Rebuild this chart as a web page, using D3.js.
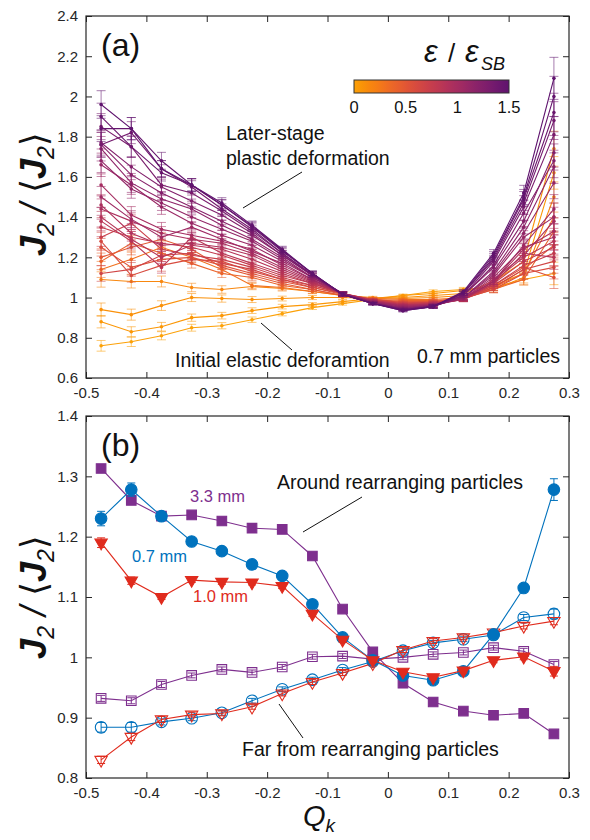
<!DOCTYPE html>
<html>
<head>
<meta charset="utf-8">
<script src="https://cdn.jsdelivr.net/npm/d3@7"></script>
<style>
  body { margin: 0; background: #fff; }
  svg { display: block; }
  text { font-family: "Liberation Sans", Arial, sans-serif; }
</style>
</head>
<body>
<svg id="chart" width="590" height="840"></svg>
<script>
// ---- shared axis data ----
const qBins = [-0.475, -0.425, -0.375, -0.325, -0.275, -0.225, -0.175, -0.125,
               -0.075, -0.025, 0.025, 0.075, 0.125, 0.175, 0.225, 0.275];
const xTicks = [-0.5, -0.4, -0.3, -0.2, -0.1, 0, 0.1, 0.2, 0.3];
const yTicksA = [0.6, 0.8, 1, 1.2, 1.4, 1.6, 1.8, 2, 2.2, 2.4];
const yTicksB = [0.8, 0.9, 1, 1.1, 1.2, 1.3, 1.4];
const cbarTicks = [0, 0.5, 1, 1.5];

// ---- panel (a): 0.7 mm particles, one curve per strain level ----
const strainLevels = [0.00, 0.05, 0.10, 0.15, 0.30, 0.40, 0.48, 0.55, 0.60, 0.66,
                      0.72, 0.78, 0.84, 0.88, 0.92, 0.96, 1.00, 1.04, 1.08, 1.12,
                      1.16, 1.20, 1.25, 1.30, 1.35, 1.40, 1.45, 1.50];
const curvesA = [
  [0.76, 0.78, 0.81, 0.85, 0.86, 0.89, 0.92, 0.95, 0.97, 0.99, 1.01, 1.03, 1.04, 1.05, 1.09, 1.12],
  [0.88, 0.83, 0.855, 0.90, 0.91, 0.935, 0.955, 0.965, 0.98, 0.995, 1.01, 1.02, 1.035, 1.06, 1.12, 1.62],
  [0.94, 0.915, 0.96, 1.00, 0.995, 0.99, 0.995, 1.00, 1.00, 0.995, 1.00, 1.01, 1.02, 1.08, 1.18, 1.74],
  [1.09, 1.08, 1.08, 1.05, 1.04, 1.055, 1.045, 1.03, 1.01, 1.00, 0.995, 1.00, 1.01, 1.04, 1.10, 1.50],
  [1.14, 1.19, 1.25, 1.20, 1.14, 1.06, 1.05, 1.03, 1.01, 0.995, 0.99, 0.99, 1.00, 1.05, 1.12, 1.40],
  [1.18, 1.27, 1.22, 1.17, 1.12, 1.10, 1.06, 1.04, 1.01, 0.99, 0.985, 0.985, 0.995, 1.04, 1.09, 1.33],
  [1.20, 1.25, 1.29, 1.24, 1.15, 1.11, 1.07, 1.04, 1.01, 0.99, 0.98, 0.98, 0.995, 1.05, 1.14, 1.26],
  [1.25, 1.15, 1.19, 1.20, 1.16, 1.12, 1.08, 1.05, 1.015, 0.99, 0.975, 0.98, 0.995, 1.06, 1.15, 1.10],
  [1.28, 1.11, 1.16, 1.19, 1.18, 1.13, 1.09, 1.05, 1.02, 0.99, 0.975, 0.975, 0.995, 1.04, 1.12, 1.15],
  [1.12, 1.14, 1.21, 1.22, 1.17, 1.14, 1.09, 1.06, 1.02, 0.99, 0.97, 0.975, 0.99, 1.05, 1.14, 1.18],
  [1.30, 1.37, 1.24, 1.21, 1.19, 1.15, 1.10, 1.06, 1.02, 0.985, 0.97, 0.975, 0.99, 1.06, 1.16, 1.22],
  [1.35, 1.30, 1.27, 1.25, 1.21, 1.16, 1.11, 1.07, 1.02, 0.985, 0.965, 0.97, 0.99, 1.07, 1.18, 1.25],
  [1.38, 1.28, 1.15, 1.30, 1.22, 1.17, 1.12, 1.07, 1.02, 0.985, 0.965, 0.97, 0.99, 1.08, 1.20, 1.28],
  [1.40, 1.29, 1.20, 1.26, 1.24, 1.19, 1.13, 1.075, 1.02, 0.985, 0.96, 0.97, 0.99, 1.07, 1.22, 1.20],
  [1.46, 1.32, 1.26, 1.27, 1.25, 1.21, 1.14, 1.08, 1.02, 0.98, 0.96, 0.965, 0.99, 1.08, 1.24, 1.33],
  [1.44, 1.38, 1.32, 1.29, 1.27, 1.22, 1.15, 1.085, 1.02, 0.98, 0.96, 0.965, 0.995, 1.09, 1.21, 1.38],
  [1.56, 1.41, 1.34, 1.31, 1.28, 1.24, 1.16, 1.09, 1.02, 0.98, 0.955, 0.965, 0.995, 1.10, 1.25, 1.30],
  [1.50, 1.39, 1.30, 1.35, 1.29, 1.23, 1.17, 1.09, 1.02, 0.98, 0.955, 0.96, 0.995, 1.08, 1.26, 1.44],
  [1.66, 1.56, 1.45, 1.37, 1.31, 1.26, 1.18, 1.10, 1.02, 0.975, 0.95, 0.96, 1.00, 1.11, 1.30, 1.40],
  [1.68, 1.54, 1.47, 1.40, 1.34, 1.28, 1.19, 1.10, 1.02, 0.975, 0.95, 0.96, 1.00, 1.12, 1.32, 1.57],
  [1.74, 1.57, 1.49, 1.44, 1.36, 1.29, 1.20, 1.10, 1.02, 0.975, 0.945, 0.96, 1.00, 1.13, 1.35, 1.65],
  [1.76, 1.61, 1.52, 1.45, 1.38, 1.31, 1.21, 1.11, 1.02, 0.975, 0.945, 0.96, 1.01, 1.15, 1.38, 1.72],
  [1.77, 1.65, 1.55, 1.48, 1.41, 1.32, 1.21, 1.11, 1.02, 0.97, 0.945, 0.955, 1.01, 1.16, 1.42, 1.68],
  [1.85, 1.75, 1.56, 1.52, 1.43, 1.33, 1.22, 1.11, 1.015, 0.97, 0.94, 0.955, 1.01, 1.18, 1.45, 1.81],
  [1.76, 1.82, 1.64, 1.55, 1.44, 1.34, 1.22, 1.115, 1.015, 0.97, 0.94, 0.955, 1.02, 1.19, 1.47, 1.88],
  [1.90, 1.75, 1.62, 1.56, 1.46, 1.35, 1.23, 1.12, 1.015, 0.97, 0.94, 0.955, 1.02, 1.20, 1.49, 1.92],
  [1.84, 1.84, 1.68, 1.56, 1.46, 1.355, 1.235, 1.12, 1.015, 0.97, 0.935, 0.955, 1.025, 1.21, 1.50, 2.00],
  [1.96, 1.84, 1.64, 1.56, 1.47, 1.36, 1.24, 1.12, 1.015, 0.97, 0.935, 0.955, 1.03, 1.22, 1.52, 2.09]
];
// relative standard error per Q_k bin
const relErrA = [0.035, 0.03, 0.025, 0.02, 0.018, 0.015, 0.012, 0.01,
                 0.008, 0.006, 0.006, 0.008, 0.01, 0.015, 0.025, 0.05];

// ---- panel (b): three particle sizes, near / far from rearrangements ----
const nearSmall  = [1.230, 1.278, 1.234, 1.192, 1.176, 1.154, 1.135, 1.088, 1.033, 0.995, 0.970, 0.962, 0.977, 1.038, 1.115, 1.278];
const nearSmallErr = [0.012, 0.011, 0.005, 0.004, 0.004, 0.004, 0.004, 0.004, 0.004, 0.004, 0.004, 0.004, 0.004, 0.005, 0.006, 0.018];
const nearMid    = [1.190, 1.127, 1.100, 1.128, 1.125, 1.124, 1.118, 1.072, 1.029, 0.995, 0.976, 0.967, 0.978, 0.995, 1.001, 0.977];
const nearMidErr = [0.008, 0.006, 0.004, 0.004, 0.004, 0.004, 0.004, 0.004, 0.004, 0.004, 0.004, 0.004, 0.004, 0.004, 0.005, 0.008];
const nearLarge  = [1.313, 1.260, 1.234, 1.236, 1.226, 1.214, 1.212, 1.168, 1.080, 1.009, 0.957, 0.926, 0.911, 0.904, 0.907, 0.873];
const nearLargeErr = [0.004, 0.004, 0.004, 0.004, 0.004, 0.004, 0.004, 0.004, 0.004, 0.004, 0.004, 0.004, 0.004, 0.004, 0.004, 0.004];
const farSmall   = [0.884, 0.884, 0.893, 0.899, 0.908, 0.928, 0.947, 0.963, 0.979, 0.993, 1.011, 1.024, 1.030, 1.037, 1.066, 1.072];
const farSmallErr = [0.008, 0.008, 0.005, 0.004, 0.004, 0.004, 0.004, 0.004, 0.004, 0.004, 0.004, 0.004, 0.004, 0.004, 0.005, 0.008];
const farMid     = [0.830, 0.868, 0.897, 0.905, 0.907, 0.918, 0.940, 0.959, 0.974, 0.990, 1.012, 1.027, 1.033, 1.041, 1.052, 1.060];
const farMidErr  = [0.006, 0.006, 0.005, 0.004, 0.004, 0.004, 0.004, 0.004, 0.004, 0.004, 0.004, 0.004, 0.004, 0.004, 0.005, 0.006];
const farLarge   = [0.932, 0.928, 0.955, 0.970, 0.980, 0.975, 0.984, 1.001, 1.002, 0.997, 1.000, 1.005, 1.008, 1.016, 1.010, 0.988];
const farLargeErr = [0.005, 0.005, 0.005, 0.004, 0.004, 0.004, 0.004, 0.004, 0.004, 0.004, 0.004, 0.004, 0.004, 0.004, 0.005, 0.005];

// ---- drawing ----
const svg = d3.select("#chart");
const INK = "#262626";
const PURPLE = "#7e2f8e", BLUE = "#0072bd", RED = "#e02b1d";

const x = d3.scaleLinear().domain([-0.5, 0.3]).range([86, 569]);
const yA = d3.scaleLinear().domain([0.6, 2.4]).range([378, 16]);
const yB = d3.scaleLinear().domain([0.8, 1.4]).range([778, 416]);
const strainColor = s => d3.interpolateInferno(0.79 - 0.52 * s / 1.5);
const fmt = d => String(+d.toFixed(2));

function drawFrame(y, yTicks) {
  const [y0, y1] = y.range();
  const g = svg.append("g").attr("class", "frame");
  const style = sel => {
    sel.select(".domain").remove();
    sel.selectAll(".tick line").attr("stroke", INK).attr("stroke-width", 1);
    sel.selectAll(".tick text").attr("fill", INK).attr("font-size", 15)
      .attr("font-family", "'Liberation Sans', Arial, sans-serif");
  };
  g.append("g").attr("transform", `translate(0,${y0})`)
    .call(d3.axisBottom(x).tickValues(xTicks).tickSizeInner(-6).tickSizeOuter(0).tickPadding(9).tickFormat(fmt))
    .call(style);
  g.append("g").attr("transform", `translate(0,${y1})`)
    .call(d3.axisTop(x).tickValues(xTicks).tickSizeInner(-6).tickSizeOuter(0).tickFormat(""))
    .call(style);
  g.append("g").attr("transform", `translate(${x.range()[0]},0)`)
    .call(d3.axisLeft(y).tickValues(yTicks).tickSizeInner(-6).tickSizeOuter(0).tickPadding(8).tickFormat(fmt))
    .call(style);
  g.append("g").attr("transform", `translate(${x.range()[1]},0)`)
    .call(d3.axisRight(y).tickValues(yTicks).tickSizeInner(-6).tickSizeOuter(0).tickFormat(""))
    .call(style);
  g.append("rect")
    .attr("x", x.range()[0]).attr("y", y1)
    .attr("width", x.range()[1] - x.range()[0]).attr("height", y0 - y1)
    .attr("fill", "none").attr("stroke", INK).attr("stroke-width", 1.2);
}

function yLabel(cy) {
  const t = svg.append("text")
    .attr("transform", `translate(46,${cy}) rotate(-90)`)
    .attr("text-anchor", "middle")
    .attr("font-family", "'Liberation Serif', 'Times New Roman', serif")
    .attr("font-style", "italic").attr("font-size", 36).attr("fill", "#111");
  t.append("tspan").attr("font-weight", "bold").text("J");
  t.append("tspan").attr("font-size", 23).attr("dy", 8).text("2");
  t.append("tspan").attr("dy", -8).text(" / ");
  t.append("tspan").attr("font-style", "normal").attr("font-family", "'DejaVu Serif', serif").attr("font-weight", 200).text("\u27E8");
  t.append("tspan").attr("font-weight", "bold").text("J");
  t.append("tspan").attr("font-size", 23).attr("dy", 8).text("2");
  t.append("tspan").attr("dy", -8).attr("font-style", "normal").attr("font-family", "'DejaVu Serif', serif").text("\u27E9");
}

function note(tx, ty, str, size, color) {
  svg.append("text").attr("x", tx).attr("y", ty)
    .attr("font-size", size).attr("fill", color || "#111").text(str);
}
function leader(x1, y1, x2, y2) {
  svg.append("line").attr("x1", x1).attr("y1", y1).attr("x2", x2).attr("y2", y2)
    .attr("stroke", "#111").attr("stroke-width", 1);
}

// ===== Panel (a) =====
const gA = svg.append("g");
const lineA = d3.line().x((d, i) => x(qBins[i])).y(d => yA(d));
curvesA.forEach((vals, k) => {
  const c = strainColor(strainLevels[k]);
  const g = gA.append("g");
  vals.forEach((v, i) => {
    const e = v * relErrA[i];
    const px = x(qBins[i]);
    const eb = g.append("g").attr("stroke", c).attr("stroke-opacity", 0.55).attr("stroke-width", 1);
    eb.append("line").attr("x1", px).attr("x2", px).attr("y1", yA(v - e)).attr("y2", yA(v + e));
    eb.append("line").attr("x1", px - 4.5).attr("x2", px + 4.5).attr("y1", yA(v - e)).attr("y2", yA(v - e));
    eb.append("line").attr("x1", px - 4.5).attr("x2", px + 4.5).attr("y1", yA(v + e)).attr("y2", yA(v + e));
  });
  g.append("path").datum(vals).attr("d", lineA)
    .attr("fill", "none").attr("stroke", c).attr("stroke-width", 1.1);
  g.selectAll("circle").data(vals).join("circle")
    .attr("cx", (d, i) => x(qBins[i])).attr("cy", d => yA(d)).attr("r", 1.8).attr("fill", c);
});
drawFrame(yA, yTicksA);
yLabel(194);

svg.append("text").attr("x", 101).attr("y", 56).attr("font-size", 32).attr("fill", "#111").text("(a)");
note(226, 140, "Later-stage", 19.5);
note(226, 165, "plastic deformation", 19.5);
leader(243, 208, 302, 172);
note(175, 367, "Initial elastic deforamtion", 19.5);
leader(261, 323, 292, 350);
note(417, 363, "0.7 mm particles", 19.5);

// colour bar
const cbX = d3.scaleLinear().domain([0, 1.5]).range([354, 509]);
const defs = svg.append("defs");
const grad = defs.append("linearGradient").attr("id", "strainGrad");
d3.range(0, 1.5001, 0.075).forEach(s => {
  grad.append("stop").attr("offset", `${(s / 1.5) * 100}%`).attr("stop-color", strainColor(s));
});
svg.append("rect").attr("x", cbX(0)).attr("y", 80).attr("width", cbX(1.5) - cbX(0)).attr("height", 13)
  .attr("fill", "url(#strainGrad)").attr("stroke", "#333").attr("stroke-width", 1);
cbarTicks.forEach(t => {
  svg.append("text").attr("x", cbX(t)).attr("y", 113).attr("text-anchor", "middle")
    .attr("font-size", 16.5).attr("fill", "#111").text(fmt(t));
});
const cbTitle = svg.append("g").attr("font-family", "'Liberation Serif', 'Times New Roman', serif")
  .attr("font-style", "italic").attr("fill", "#111");
cbTitle.append("text").attr("x", 424).attr("y", 62).attr("font-size", 31).text("\u03B5");
cbTitle.append("text").attr("x", 448).attr("y", 62).attr("font-size", 26).attr("font-style", "normal").text("/");
cbTitle.append("text").attr("x", 465).attr("y", 62).attr("font-size", 31).text("\u03B5");
cbTitle.append("text").attr("x", 481).attr("y", 70).attr("font-size", 18).text("SB");

// ===== Panel (b) =====
const seriesB = [
  { vals: farLarge,  err: farLargeErr,  color: PURPLE, shape: "square",   filled: false },
  { vals: farSmall,  err: farSmallErr,  color: BLUE,   shape: "circle",   filled: false },
  { vals: farMid,    err: farMidErr,    color: RED,    shape: "triangle", filled: false },
  { vals: nearLarge, err: nearLargeErr, color: PURPLE, shape: "square",   filled: true },
  { vals: nearSmall, err: nearSmallErr, color: BLUE,   shape: "circle",   filled: true },
  { vals: nearMid,   err: nearMidErr,   color: RED,    shape: "triangle", filled: true }
];
const lineB = d3.line().x((d, i) => x(qBins[i])).y(d => yB(d));
const symbolFor = {
  square: d3.symbol().type(d3.symbolSquare).size(92),
  circle: d3.symbol().type(d3.symbolCircle).size(105),
  triangle: d3.symbol().type(d3.symbolTriangle).size(66)
};
seriesB.forEach(s => {
  const g = svg.append("g");
  g.append("path").datum(s.vals).attr("d", lineB)
    .attr("fill", "none").attr("stroke", s.color).attr("stroke-width", 1.1);
  s.vals.forEach((v, i) => {
    const px = x(qBins[i]);
    const e = s.err[i];
    const eb = g.append("g").attr("stroke", s.color).attr("stroke-width", 1);
    eb.append("line").attr("x1", px).attr("x2", px).attr("y1", yB(v - e)).attr("y2", yB(v + e));
    eb.append("line").attr("x1", px - 4).attr("x2", px + 4).attr("y1", yB(v - e)).attr("y2", yB(v - e));
    eb.append("line").attr("x1", px - 4).attr("x2", px + 4).attr("y1", yB(v + e)).attr("y2", yB(v + e));
    const rot = s.shape === "triangle" ? " rotate(180)" : "";
    g.append("path").attr("d", symbolFor[s.shape]())
      .attr("transform", `translate(${px},${yB(v)})${rot}`)
      .attr("fill", s.filled ? s.color : "none")
      .attr("stroke", s.color).attr("stroke-width", 1.1);
  });
});
drawFrame(yB, yTicksB);
yLabel(597);

svg.append("text").attr("x", 101).attr("y", 456).attr("font-size", 32).attr("fill", "#111").text("(b)");
note(190, 502, "3.3 mm", 16.5, PURPLE);
note(132, 562, "0.7 mm", 16.5, BLUE);
note(193, 602, "1.0 mm", 16.5, RED);
note(277, 489, "Around rearranging particles", 19.5);
leader(303, 532, 362, 497);
note(242, 756, "Far from rearranging particles", 19.5);
leader(279, 704, 303, 738);

// x-axis title
const xt = svg.append("text").attr("x", 303).attr("y", 826)
  .attr("font-family", "'Liberation Serif', 'Times New Roman', serif")
  .attr("font-style", "italic").attr("font-size", 29).attr("fill", "#111");
xt.append("tspan").text("Q");
xt.append("tspan").attr("font-size", 19).attr("dy", 6).text("k");
</script>
</body>
</html>
